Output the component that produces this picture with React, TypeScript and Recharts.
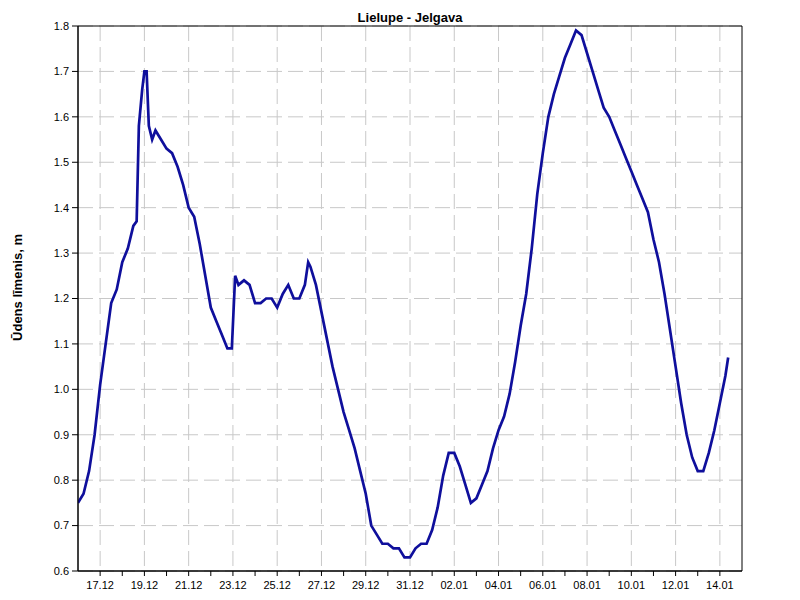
import { LineChart, Line, XAxis, YAxis, CartesianGrid, ReferenceArea } from 'recharts'

// days since 16.12 00:00
const sampleDays = [
  0, 0.25, 0.5, 0.75,
  1, 1.25, 1.5, 1.75,
  2, 2.25, 2.5, 2.65, 2.75, 2.9,
  3, 3.1, 3.2, 3.35, 3.5, 3.75,
  4, 4.25, 4.5, 4.75,
  5, 5.25, 5.5, 5.75,
  6, 6.25, 6.5, 6.75, 6.95, 7.1,
  7.25, 7.5, 7.75,
  8, 8.25, 8.5, 8.75,
  9, 9.25, 9.5, 9.75,
  10, 10.25, 10.4, 10.5, 10.75,
  11, 11.25, 11.5, 11.75,
  12, 12.25, 12.5, 12.75,
  13, 13.25, 13.5, 13.75,
  14, 14.25, 14.5, 14.75,
  15, 15.25, 15.5, 15.75,
  16, 16.25, 16.5, 16.75,
  17, 17.25, 17.5, 17.75,
  18, 18.25, 18.5, 18.75,
  19, 19.25, 19.5, 19.75,
  20, 20.25, 20.5, 20.75,
  21, 21.25, 21.5, 21.75,
  22, 22.25, 22.5, 22.75,
  23, 23.25, 23.5, 23.75,
  24, 24.25, 24.5, 24.75,
  25, 25.25, 25.5, 25.75,
  26, 26.25, 26.5, 26.75,
  27, 27.25, 27.5, 27.75,
  28, 28.25, 28.5, 28.75,
  29, 29.25, 29.375,
]

const waterLevel = [
  0.75, 0.77, 0.82, 0.9,
  1.01, 1.1, 1.19, 1.22,
  1.28, 1.31, 1.36, 1.37, 1.58, 1.66,
  1.7, 1.7, 1.58, 1.55, 1.57, 1.55,
  1.53, 1.52, 1.49, 1.45,
  1.4, 1.38, 1.32, 1.25,
  1.18, 1.15, 1.12, 1.09, 1.09, 1.25,
  1.23, 1.24, 1.23,
  1.19, 1.19, 1.2, 1.2,
  1.18, 1.21, 1.23, 1.2,
  1.2, 1.23, 1.28, 1.27, 1.23,
  1.17, 1.11, 1.05, 1.0,
  0.95, 0.91, 0.87, 0.82,
  0.77, 0.7, 0.68, 0.66,
  0.66, 0.65, 0.65, 0.63,
  0.63, 0.65, 0.66, 0.66,
  0.69, 0.74, 0.81, 0.86,
  0.86, 0.83, 0.79, 0.75,
  0.76, 0.79, 0.82, 0.87,
  0.91, 0.94, 0.99, 1.06,
  1.14, 1.21, 1.31, 1.43,
  1.52, 1.6, 1.65, 1.69,
  1.73, 1.76, 1.79, 1.78,
  1.74, 1.7, 1.66, 1.62,
  1.6, 1.57, 1.54, 1.51,
  1.48, 1.45, 1.42, 1.39,
  1.33, 1.28, 1.21, 1.13,
  1.05, 0.97, 0.9, 0.85,
  0.82, 0.82, 0.86, 0.91,
  0.97, 1.03, 1.07,
]

const labelDays = [1, 3, 5, 7, 9, 11, 13, 15, 17, 19, 21, 23, 25, 27, 29]
const dateLabels = ['17.12', '19.12', '21.12', '23.12', '25.12', '27.12', '29.12', '31.12', '02.01', '04.01', '06.01', '08.01', '10.01', '12.01', '14.01']
const allTickDays = [1, 2, 3, 4, 5, 6, 7, 8, 9, 10, 11, 12, 13, 14, 15, 16, 17, 18, 19, 20, 21, 22, 23, 24, 25, 26, 27, 28, 29]
const levelTicks = [0.6, 0.7, 0.8, 0.9, 1.0, 1.1, 1.2, 1.3, 1.4, 1.5, 1.6, 1.7, 1.8]
const X_DOMAIN = [0, 30]

const data = sampleDays.map((d, i) => ({ day: d, level: waterLevel[i] }))

const FONT = '"Liberation Sans", Arial, sans-serif'

const DateTick = ({ x, y, payload }: any) => {
  const idx = labelDays.indexOf(payload.value)
  if (idx < 0) return null
  return (
    <text x={x} y={y + 11} textAnchor="middle" fontSize={11} fontFamily={FONT} fill="#000">
      {dateLabels[idx]}
    </text>
  )
}

const YTitle = ({ viewBox }: any) => {
  const cx = viewBox.x + 22
  const cy = viewBox.y + viewBox.height / 2 - 11
  return (
    <text
      x={cx}
      y={cy}
      transform={`rotate(-90, ${cx}, ${cy})`}
      textAnchor="middle"
      fontSize={13}
      fontWeight="bold"
      fontFamily={FONT}
      fill="#000"
    >
      Ūdens līmenis, m
    </text>
  )
}

const App = () => {
  return (
    <div style={{ position: 'absolute', left: 0, top: 0, width: 800, height: 600, background: '#fff' }}>
      <div
        style={{
          position: 'absolute',
          top: 10,
          left: 78,
          width: 664,
          textAlign: 'center',
          fontFamily: FONT,
          fontSize: 13,
          fontWeight: 'bold',
        }}
      >
        Lielupe - Jelgava
      </div>
      <LineChart width={800} height={600} data={data} margin={{ top: 26, right: 58, bottom: 4, left: 0 }}>
        <CartesianGrid
          stroke="#c8c8c8"
          strokeDasharray="15 6"
          verticalCoordinatesGenerator={({ offset }: any) =>
            labelDays.map(
              (d) => offset.left + ((d - X_DOMAIN[0]) / (X_DOMAIN[1] - X_DOMAIN[0])) * offset.width
            )
          }
        />
        <XAxis
          dataKey="day"
          type="number"
          domain={X_DOMAIN}
          ticks={allTickDays}
          interval={0}
          height={25}
          stroke="#000"
          tickSize={5}
          tick={<DateTick />}
          allowDataOverflow
        />
        <YAxis
          type="number"
          domain={[0.6, 1.8]}
          ticks={levelTicks}
          interval={0}
          width={78}
          stroke="#000"
          tickSize={6}
          tickMargin={3}
          tick={{ fontSize: 11, fontFamily: FONT, fill: '#000' }}
          tickFormatter={(v: number) => v.toFixed(1)}
          label={<YTitle />}
          allowDataOverflow
        />
        <ReferenceArea x1={0} x2={30} y1={0.6} y2={1.8} fill="none" stroke="#000" strokeWidth={1} ifOverflow="visible" />
        <Line
          type="linear"
          dataKey="level"
          stroke="#0f0f9c"
          strokeWidth={2.7}
          dot={false}
          isAnimationActive={false}
        />
      </LineChart>
    </div>
  )
}

export default App
